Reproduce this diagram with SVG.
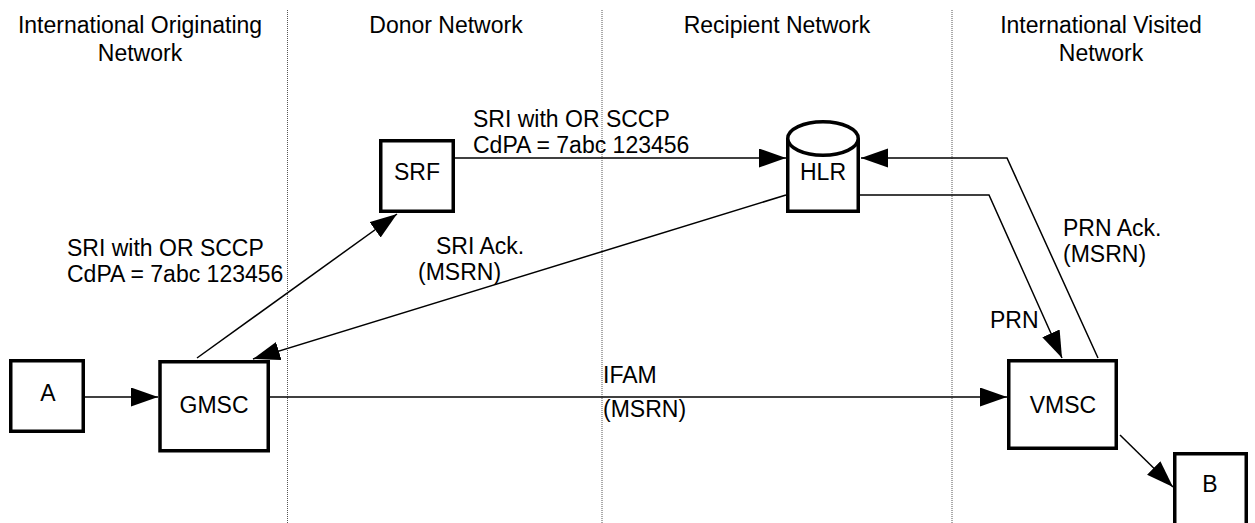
<svg xmlns="http://www.w3.org/2000/svg" width="1255" height="523" viewBox="0 0 1255 523">
<style>
text{font-family:"Liberation Sans",Arial,sans-serif;font-size:23px;fill:#000}
.t{text-anchor:middle}
.box{fill:#fff;stroke:#000;stroke-width:3.5}
.con{fill:none;stroke:#000;stroke-width:1.5}
.div{stroke:#555;stroke-width:1;stroke-dasharray:1 1}
</style>
<defs>
<marker id="ah" markerUnits="userSpaceOnUse" markerWidth="28" markerHeight="20" refX="27" refY="9.5" orient="auto">
<path d="M0,0 L27,9.5 L0,19 z" fill="#000"/>
</marker>
</defs>
<rect width="1255" height="523" fill="#fff"/>
<g id="dividers">
<line class="div" x1="287.5" y1="10" x2="287.5" y2="523"/>
<line class="div" x1="602" y1="10" x2="602" y2="523"/>
<line class="div" x1="952" y1="10" x2="952" y2="523"/>
</g>
<g id="titles">
<text class="t" x="140" y="33">International Originating</text>
<text class="t" x="140" y="61">Network</text>
<text class="t" x="446" y="33">Donor Network</text>
<text class="t" x="777" y="33">Recipient Network</text>
<text class="t" x="1101" y="33">International Visited</text>
<text class="t" x="1101" y="61">Network</text>
</g>
<g id="connectors">
<line class="con" x1="85" y1="397" x2="158" y2="397" marker-end="url(#ah)"/>
<line class="con" x1="197" y1="358" x2="397" y2="214" marker-end="url(#ah)"/>
<line class="con" x1="455" y1="158" x2="786" y2="158" marker-end="url(#ah)"/>
<line class="con" x1="786" y1="195" x2="253" y2="359" marker-end="url(#ah)"/>
<line class="con" x1="270" y1="397" x2="1007" y2="397" marker-end="url(#ah)"/>
<polyline class="con" points="860,195 989,195 1062,358" marker-end="url(#ah)"/>
<polyline class="con" points="1098,358 1007,158 861,158" marker-end="url(#ah)"/>
<line class="con" x1="1120" y1="435" x2="1173" y2="487" marker-end="url(#ah)"/>
<text x="473" y="127">SRI with OR SCCP</text>
<text x="473" y="153">CdPA = 7abc 123456</text>
<text x="67" y="256">SRI with OR SCCP</text>
<text x="67" y="282">CdPA = 7abc 123456</text>
<text x="436" y="254">SRI Ack.</text>
<text x="418" y="280">(MSRN)</text>
<text x="603" y="383">IFAM</text>
<text x="603" y="417">(MSRN)</text>
<text x="990" y="328">PRN</text>
<text x="1063" y="236">PRN Ack.</text>
<text x="1063" y="262">(MSRN)</text>
</g>
<g id="node-A">
<rect class="box" x="10.75" y="360.75" width="72.5" height="70.5"/>
<text class="t" x="48" y="401">A</text>
</g>
<g id="node-GMSC">
<rect class="box" x="160" y="361.75" width="108.25" height="89"/>
<text class="t" x="214" y="413">GMSC</text>
</g>
<g id="node-SRF">
<rect class="box" x="380.75" y="140.75" width="72.5" height="70.5"/>
<text class="t" x="417" y="180">SRF</text>
</g>
<g id="node-HLR">
<path class="box" d="M787.75,138.5 L787.75,211.25 L858.25,211.25 L858.25,138.5"/>
<ellipse class="box" cx="823" cy="138.5" rx="35.25" ry="16.75"/>
<text class="t" x="823" y="180">HLR</text>
</g>
<g id="node-VMSC">
<rect class="box" x="1008.75" y="360.75" width="107.5" height="87.5"/>
<text class="t" x="1063" y="413">VMSC</text>
</g>
<g id="node-B">
<rect class="box" x="1174.75" y="453.75" width="71.5" height="74"/>
<text class="t" x="1210" y="492">B</text>
</g>
</svg>
